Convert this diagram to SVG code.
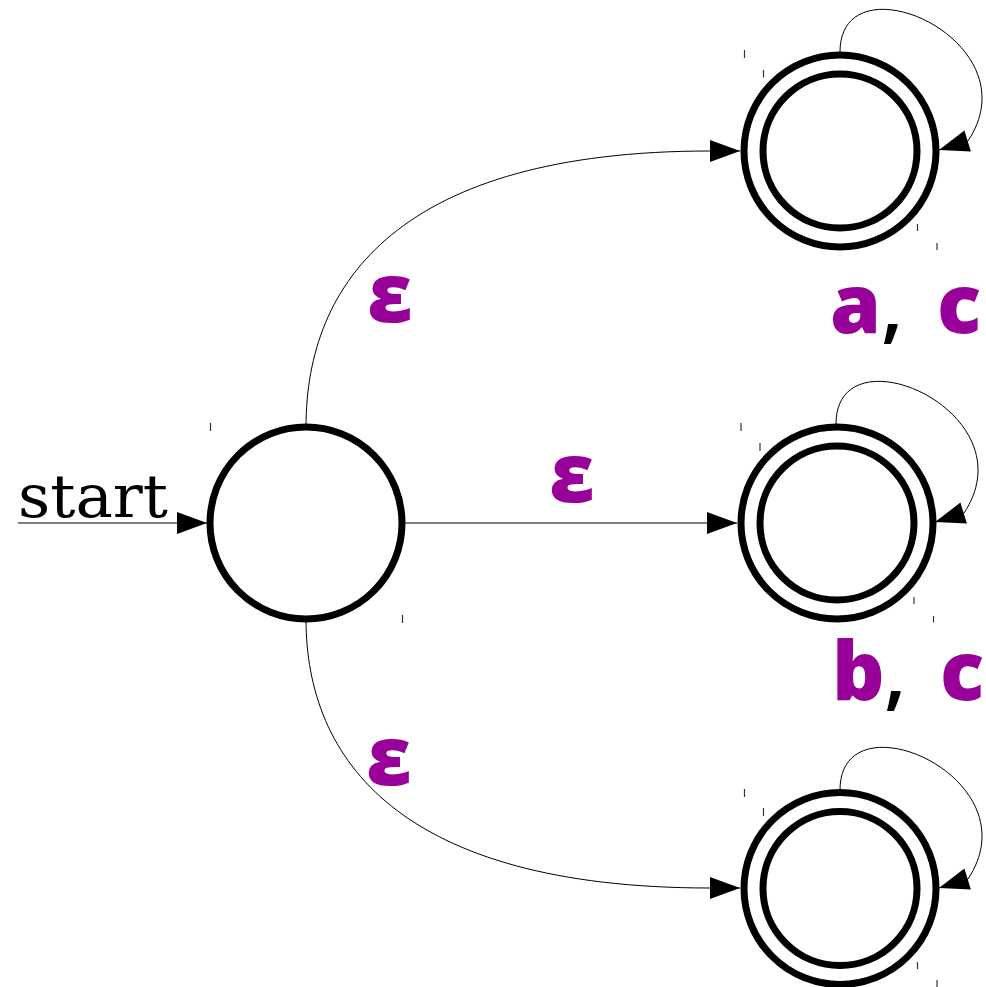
<svg xmlns="http://www.w3.org/2000/svg" width="986" height="987" viewBox="0 0 986 987">
<style>
.state{fill:none;stroke:#000;stroke-width:7}
.edge{fill:none;stroke:#000;stroke-width:1}
.tick{stroke:#333;stroke-width:1.2}
.lbl{font-family:"Open Sans","DejaVu Sans",sans-serif;font-weight:800;font-size:82px;fill:#990099}
.sep{fill:#000;font-weight:600}
.start{font-family:"DejaVu Serif","Liberation Serif",serif;font-size:60px;fill:#000}
</style>
<defs>
<marker id="arr" markerUnits="userSpaceOnUse" markerWidth="31" markerHeight="22" refX="30" refY="11" orient="auto" overflow="visible">
<path d="M0,0 L30,11 L0,22 Z" fill="#000"/>
</marker>
</defs>
<rect width="986" height="987" fill="#fff"/>
<g id="connectors">
<path class="edge" d="M18,523 L207,523" marker-end="url(#arr)"/>
<path class="edge" d="M306,427 C306,282 400,151 710,151 L740,151" marker-end="url(#arr)"/>
<path class="edge" d="M402,523 L737,523" marker-end="url(#arr)"/>
<path class="edge" d="M306,619 C306,760 400,888 710,888 L740,888" marker-end="url(#arr)"/>
<path class="edge" d="M840,52 C840,-45 1035,40 968,141 L939,150" marker-end="url(#arr)"/>
<path class="edge" d="M836,424 C836,327 1031,412 964,513 L935,522" marker-end="url(#arr)"/>
<path class="edge" d="M840,790 C840,693 1035,778 968,879 L939,888" marker-end="url(#arr)"/>
<text class="start" x="18" y="517" textLength="150" lengthAdjust="spacingAndGlyphs">start</text>
<text class="lbl" x="390" y="322" text-anchor="middle">ε</text>
<text class="lbl" x="572" y="502" text-anchor="middle">ε</text>
<text class="lbl" x="389" y="785" text-anchor="middle">ε</text>
<text class="lbl" y="333"><tspan x="830">a</tspan><tspan class="sep" x="881">,</tspan><tspan x="937">c</tspan></text>
<text class="lbl" y="700"><tspan x="832">b</tspan><tspan class="sep" x="884">,</tspan><tspan x="940">c</tspan></text>
</g>
<g id="q0">
<circle class="state" cx="306" cy="523" r="96"/>
<line class="tick" x1="210.5" y1="423" x2="210.5" y2="431"/>
<line class="tick" x1="402.5" y1="615" x2="402.5" y2="623"/>
</g>
<g id="q1">
<circle class="state" cx="840" cy="151" r="96"/>
<circle class="state" cx="840" cy="151" r="77"/>
<line class="tick" x1="744.5" y1="50" x2="744.5" y2="58"/>
<line class="tick" x1="763.5" y1="70" x2="763.5" y2="77.5"/>
<line class="tick" x1="917.5" y1="224" x2="917.5" y2="231"/>
<line class="tick" x1="937" y1="243" x2="937" y2="250"/>
</g>
<g id="q2">
<circle class="state" cx="837" cy="523" r="96"/>
<circle class="state" cx="837" cy="523" r="77"/>
<line class="tick" x1="741" y1="423" x2="741" y2="431"/>
<line class="tick" x1="760" y1="443" x2="760" y2="451"/>
<line class="tick" x1="914" y1="597" x2="914" y2="604"/>
<line class="tick" x1="933.5" y1="616" x2="933.5" y2="622.5"/>
</g>
<g id="q3">
<circle class="state" cx="840" cy="888.5" r="96"/>
<circle class="state" cx="840" cy="888.5" r="77"/>
<line class="tick" x1="744.5" y1="789" x2="744.5" y2="797"/>
<line class="tick" x1="763.5" y1="808" x2="763.5" y2="816"/>
<line class="tick" x1="917.5" y1="962" x2="917.5" y2="969"/>
<line class="tick" x1="937" y1="980" x2="937" y2="987"/>
</g>
</svg>
